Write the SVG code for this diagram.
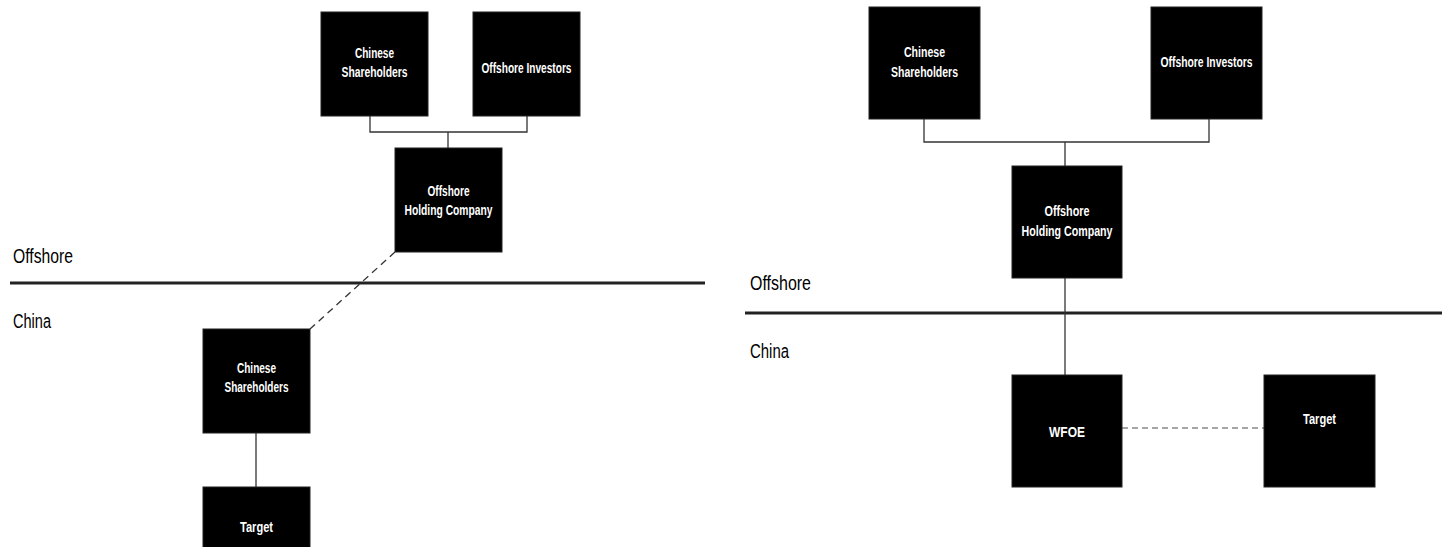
<svg xmlns="http://www.w3.org/2000/svg" width="1442" height="547" viewBox="0 0 1442 547">
<style>
.box{fill:#000;stroke:#222;stroke-width:1}
.t{fill:#fff;font-family:"Liberation Sans",Arial,sans-serif;font-weight:bold;font-size:14px;text-anchor:middle}
.lbl{fill:#000;font-family:"Liberation Sans",Arial,sans-serif;font-size:20px}
.c{stroke:#333;stroke-width:1.3;fill:none}
.div{stroke:#222;stroke-width:3}
.dash{stroke:#333;stroke-width:1.3;stroke-dasharray:7 5;fill:none}
.gdash{stroke:#888;stroke-width:1.3;stroke-dasharray:6 4;fill:none}
</style>
<rect width="1442" height="547" fill="#fff"/>
<g id="labels">
<text class="lbl" x="13" y="263" textLength="60" lengthAdjust="spacingAndGlyphs">Offshore</text>
<text class="lbl" x="13" y="328" textLength="38" lengthAdjust="spacingAndGlyphs">China</text>
<text class="lbl" x="750" y="290" textLength="61" lengthAdjust="spacingAndGlyphs">Offshore</text>
<text class="lbl" x="750" y="358" textLength="39" lengthAdjust="spacingAndGlyphs">China</text>
</g>
<g id="connectors">
<line class="div" x1="10" y1="283" x2="705" y2="283"/>
<line class="div" x1="745" y1="313" x2="1442" y2="313"/>
<path class="c" d="M370 116 V132 H527 V116 M448 132 V148"/>
<line class="dash" x1="395" y1="252" x2="310" y2="329"/>
<line class="c" x1="256" y1="433" x2="256" y2="487"/>
<path class="c" d="M924 119 V142 H1209 V119 M1065 142 V166"/>
<line class="c" x1="1065" y1="278" x2="1065" y2="375"/>
<line class="gdash" x1="1122" y1="428" x2="1264" y2="428"/>
</g>
<g id="l-chinese-shareholders">
<rect class="box" x="321" y="12" width="107" height="104"/>
<text class="t" x="374.5" y="58" textLength="39" lengthAdjust="spacingAndGlyphs">Chinese</text>
<text class="t" x="374.5" y="77" textLength="66" lengthAdjust="spacingAndGlyphs">Shareholders</text>
</g>
<g id="l-offshore-investors">
<rect class="box" x="473" y="12" width="107" height="104"/>
<text class="t" x="526.5" y="73" textLength="90" lengthAdjust="spacingAndGlyphs">Offshore Investors</text>
</g>
<g id="l-holding">
<rect class="box" x="395" y="148" width="107" height="104"/>
<text class="t" x="448.5" y="196" textLength="42" lengthAdjust="spacingAndGlyphs">Offshore</text>
<text class="t" x="448.5" y="215" textLength="88" lengthAdjust="spacingAndGlyphs">Holding Company</text>
</g>
<g id="l-china-shareholders">
<rect class="box" x="203" y="329" width="107" height="104"/>
<text class="t" x="256.5" y="373" textLength="39" lengthAdjust="spacingAndGlyphs">Chinese</text>
<text class="t" x="256.5" y="392" textLength="64" lengthAdjust="spacingAndGlyphs">Shareholders</text>
</g>
<g id="l-target">
<rect class="box" x="203" y="487" width="107" height="70"/>
<text class="t" x="256.5" y="532" textLength="33" lengthAdjust="spacingAndGlyphs">Target</text>
</g>
<g id="r-chinese-shareholders">
<rect class="box" x="869" y="7" width="111" height="112"/>
<text class="t" x="924.5" y="57" textLength="41" lengthAdjust="spacingAndGlyphs">Chinese</text>
<text class="t" x="924.5" y="77" textLength="67" lengthAdjust="spacingAndGlyphs">Shareholders</text>
</g>
<g id="r-offshore-investors">
<rect class="box" x="1151" y="7" width="111" height="112"/>
<text class="t" x="1206.5" y="67" textLength="92" lengthAdjust="spacingAndGlyphs">Offshore Investors</text>
</g>
<g id="r-holding">
<rect class="box" x="1012" y="166" width="110" height="112"/>
<text class="t" x="1067" y="216" textLength="45" lengthAdjust="spacingAndGlyphs">Offshore</text>
<text class="t" x="1067" y="236" textLength="91" lengthAdjust="spacingAndGlyphs">Holding Company</text>
</g>
<g id="r-wfoe">
<rect class="box" x="1012" y="375" width="110" height="112"/>
<text class="t" x="1067" y="437" textLength="36" lengthAdjust="spacingAndGlyphs">WFOE</text>
</g>
<g id="r-target">
<rect class="box" x="1264" y="375" width="111" height="112"/>
<text class="t" x="1319.5" y="424" textLength="33" lengthAdjust="spacingAndGlyphs">Target</text>
</g>
</svg>
